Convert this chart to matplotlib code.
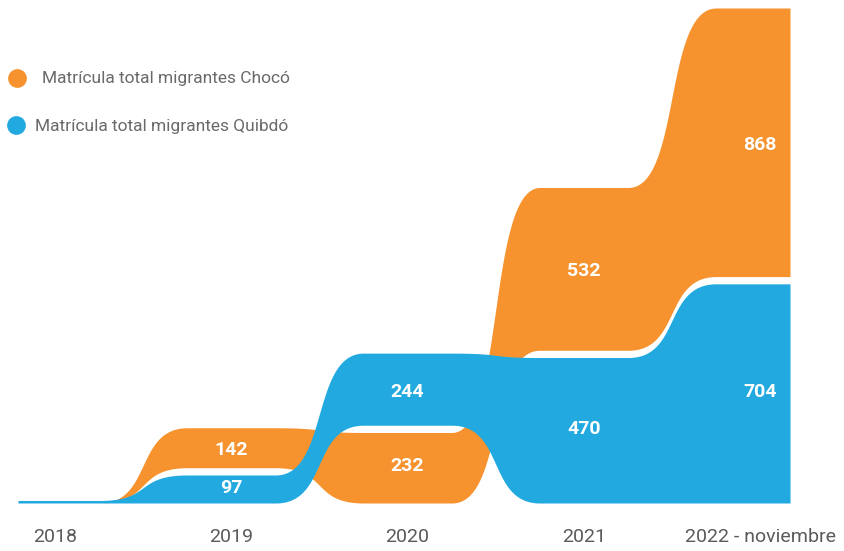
import numpy as np
import matplotlib.pyplot as plt

plt.rcParams['font.family'] = ['Roboto', 'DejaVu Sans']

# data
years = ["2018", "2019", "2020", "2021", "2022 - noviembre"]
choco = [0, 142, 232, 532, 868]
quibdo = [8, 97, 244, 470, 704]

orange = "#F6932F"
blue = "#21A9E0"

# s-shaped step (cubic bezier, flat ends, steep middle)
tt = np.linspace(0, 1, 400)
a = 0.6
bx = 3 * (1 - tt)**2 * tt * a + 3 * (1 - tt) * tt**2 * (1 - a) + tt**3
by = 3 * (1 - tt) * tt**2 + tt**3


def smooth(vals, x, w=0.5):
    out = np.full_like(x, float(vals[0]))
    for i in range(len(vals) - 1):
        u = np.clip((x - (i + 0.5)) / w + 0.5, 0, 1)
        out += (vals[i + 1] - vals[i]) * np.interp(u, bx, by)
    return out


c = np.array(choco, float)
q = np.array(quibdo, float)
both = (c > 0) & (q > 0)
# smaller value sits at the bottom, larger one stacked on top
c_lo = np.where(c > q, q, 0)
q_lo = np.where(q >= c, c, 0)
# white gap carved out where the bands touch
c_b = c_lo + np.where(both & (c > q), 15, 0)
c_t = c_lo + c - np.where(both & (c <= q), 8, 0)
q_b = q_lo + np.where(both & (q >= c), 15, 0)
q_t = q_lo + q - np.where(both & (q < c), 8, 0)

x = np.linspace(-0.21, 4.17, 3000)

fig = plt.figure(figsize=(8.44, 5.51), dpi=100)
ax = fig.add_axes([18 / 844, 48 / 551, 772 / 844, 495 / 551])
ax.set_xlim(-0.21, 4.17)
ax.set_ylim(0, max(c_lo + c))

ax.fill_between(x, smooth(c_b, x), smooth(c_t, x), color=orange, lw=0, zorder=1)
ax.fill_between(x, smooth(q_b, x), smooth(q_t, x), color=blue, lw=0, zorder=2)

for i in range(1, len(years)):
    ax.text(i, c_lo[i] + c[i] / 2, str(choco[i]), color="white", fontsize=14,
            fontweight="bold", ha="center", va="center", zorder=4)
    ax.text(i, q_lo[i] + q[i] / 2, str(quibdo[i]), color="white", fontsize=14,
            fontweight="bold", ha="center", va="center", zorder=4)

ax.set_xticks(range(len(years)))
ax.set_xticklabels(years, fontsize=14, color="#5a5a5a")
ax.tick_params(axis="x", length=0, pad=18)
ax.set_yticks([])
for s in ax.spines.values():
    s.set_visible(False)

# legend in pixel coords
lg = fig.add_axes([0, 0, 1, 1], facecolor="none")
lg.set_xlim(0, 844)
lg.set_ylim(551, 0)
lg.axis("off")
lg.plot(17, 78, "o", ms=13.5, color=orange, mec="none")
lg.plot(16, 125, "o", ms=13.5, color=blue, mec="none")
lg.text(42, 79, "Matrícula total migrantes Chocó", fontsize=12.5, color="#6a6a6a",
        va="center")
lg.text(35, 126, "Matrícula total migrantes Quibdó", fontsize=12.5, color="#6a6a6a",
        va="center")

fig.savefig("out.png", dpi=100)
